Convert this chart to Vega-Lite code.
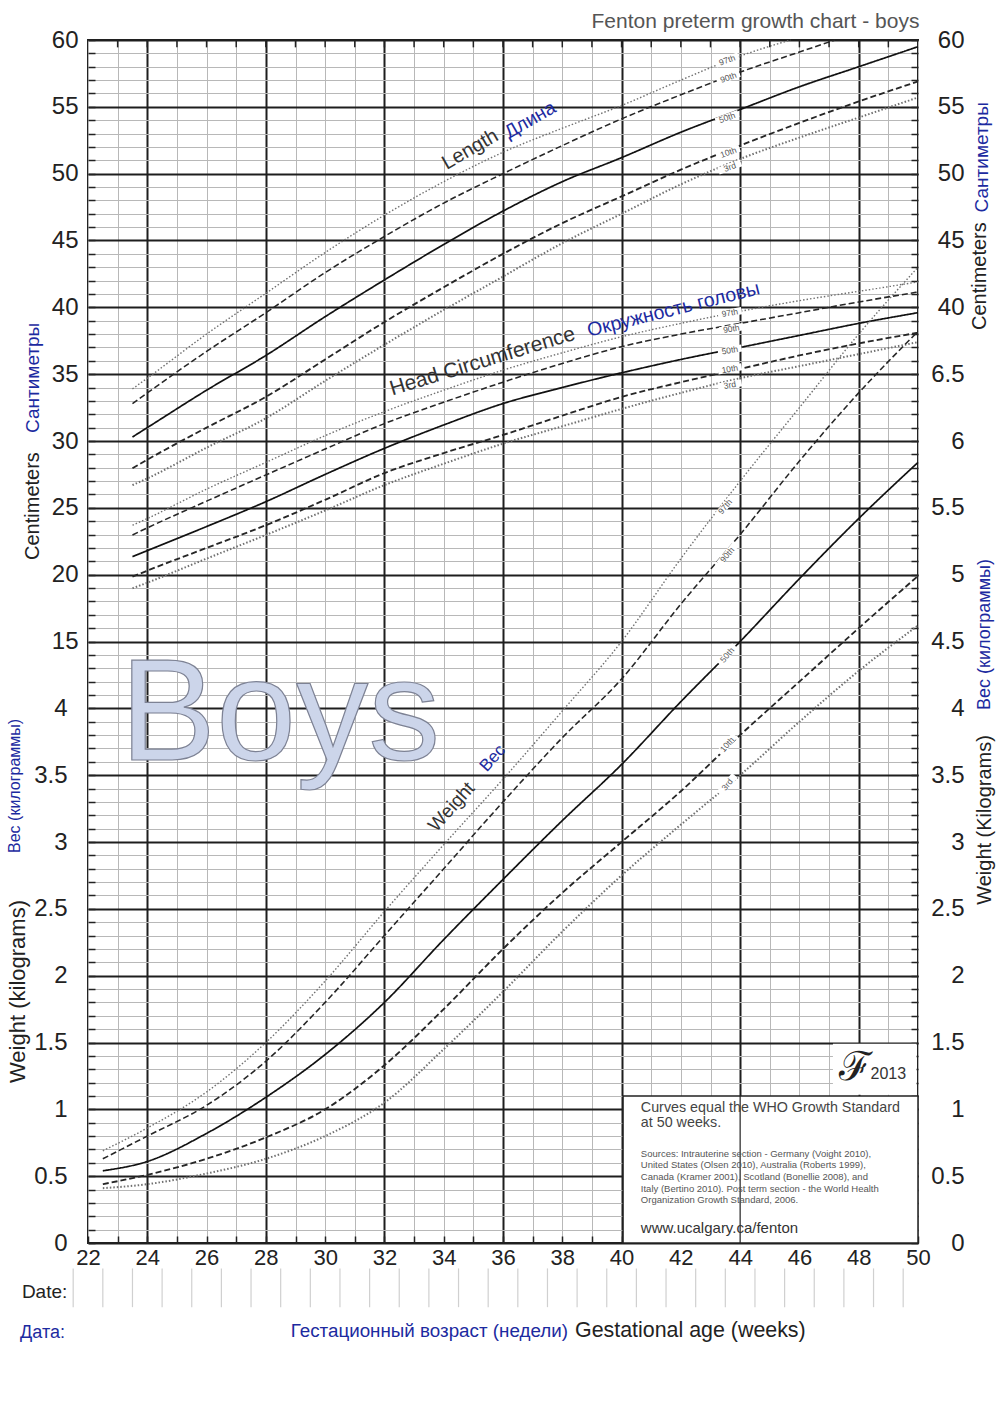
{
  "$schema": "https://vega.github.io/schema/vega-lite/v6.json",
  "width": 830,
  "height": 1203,
  "autosize": "none",
  "padding": {"left": 88, "top": 40, "right": 89, "bottom": 168},
  "background": "white",
  "config": {
    "view": {"stroke": "#222222", "strokeWidth": 2},
    "font": "Liberation Sans",
    "text": {"font": "Liberation Sans"},
    "axis": {"labelFont": "Liberation Sans", "labelFlush": false, "labelOverlap": false, "labelBound": false, "domain": false}
  },
  "datasets": {
    "growth": [
      {"m":"Length","p":"97th","week":23.5,"v":33.9},{"m":"Length","p":"97th","week":24,"v":34.7},{"m":"Length","p":"97th","week":26,"v":38.0},{"m":"Length","p":"97th","week":28,"v":41.05},{"m":"Length","p":"97th","week":30,"v":44.1},{"m":"Length","p":"97th","week":32,"v":46.9},{"m":"Length","p":"97th","week":34,"v":49.4},{"m":"Length","p":"97th","week":36,"v":51.6},{"m":"Length","p":"97th","week":38,"v":53.4},{"m":"Length","p":"97th","week":40,"v":55.1},{"m":"Length","p":"97th","week":42,"v":57.0},{"m":"Length","p":"97th","week":44,"v":58.8},{"m":"Length","p":"97th","week":45.7,"v":60.0},
      {"m":"Length","p":"90th","week":23.5,"v":32.8},{"m":"Length","p":"90th","week":24,"v":33.6},{"m":"Length","p":"90th","week":26,"v":36.7},{"m":"Length","p":"90th","week":28,"v":39.6},{"m":"Length","p":"90th","week":30,"v":42.6},{"m":"Length","p":"90th","week":32,"v":45.3},{"m":"Length","p":"90th","week":34,"v":47.8},{"m":"Length","p":"90th","week":36,"v":50.0},{"m":"Length","p":"90th","week":38,"v":52.1},{"m":"Length","p":"90th","week":40,"v":54.1},{"m":"Length","p":"90th","week":42,"v":55.9},{"m":"Length","p":"90th","week":44,"v":57.6},{"m":"Length","p":"90th","week":46,"v":59.1},{"m":"Length","p":"90th","week":47.2,"v":60.0},
      {"m":"Length","p":"50th","week":23.5,"v":30.3},{"m":"Length","p":"50th","week":24,"v":31.0},{"m":"Length","p":"50th","week":26,"v":33.8},{"m":"Length","p":"50th","week":28,"v":36.4},{"m":"Length","p":"50th","week":30,"v":39.3},{"m":"Length","p":"50th","week":32,"v":42.05},{"m":"Length","p":"50th","week":34,"v":44.7},{"m":"Length","p":"50th","week":36,"v":47.2},{"m":"Length","p":"50th","week":38,"v":49.4},{"m":"Length","p":"50th","week":40,"v":51.2},{"m":"Length","p":"50th","week":42,"v":53.1},{"m":"Length","p":"50th","week":44,"v":54.8},{"m":"Length","p":"50th","week":46,"v":56.5},{"m":"Length","p":"50th","week":48,"v":58.0},{"m":"Length","p":"50th","week":50,"v":59.5},
      {"m":"Length","p":"10th","week":23.5,"v":27.96},{"m":"Length","p":"10th","week":24,"v":28.6},{"m":"Length","p":"10th","week":26,"v":31.0},{"m":"Length","p":"10th","week":28,"v":33.3},{"m":"Length","p":"10th","week":30,"v":36.1},{"m":"Length","p":"10th","week":32,"v":38.9},{"m":"Length","p":"10th","week":34,"v":41.5},{"m":"Length","p":"10th","week":36,"v":44.0},{"m":"Length","p":"10th","week":38,"v":46.3},{"m":"Length","p":"10th","week":40,"v":48.3},{"m":"Length","p":"10th","week":42,"v":50.3},{"m":"Length","p":"10th","week":44,"v":52.1},{"m":"Length","p":"10th","week":46,"v":53.8},{"m":"Length","p":"10th","week":48,"v":55.4},{"m":"Length","p":"10th","week":50,"v":56.9},
      {"m":"Length","p":"3rd","week":23.5,"v":26.7},{"m":"Length","p":"3rd","week":24,"v":27.2},{"m":"Length","p":"3rd","week":26,"v":29.5},{"m":"Length","p":"3rd","week":28,"v":31.7},{"m":"Length","p":"3rd","week":30,"v":34.5},{"m":"Length","p":"3rd","week":32,"v":37.2},{"m":"Length","p":"3rd","week":34,"v":39.8},{"m":"Length","p":"3rd","week":36,"v":42.3},{"m":"Length","p":"3rd","week":38,"v":44.8},{"m":"Length","p":"3rd","week":40,"v":47.0},{"m":"Length","p":"3rd","week":42,"v":49.2},{"m":"Length","p":"3rd","week":44,"v":51.1},{"m":"Length","p":"3rd","week":46,"v":52.7},{"m":"Length","p":"3rd","week":48,"v":54.2},{"m":"Length","p":"3rd","week":50,"v":55.7},
      {"m":"Head","p":"97th","week":23.5,"v":23.7},{"m":"Head","p":"97th","week":24,"v":24.2},{"m":"Head","p":"97th","week":26,"v":26.4},{"m":"Head","p":"97th","week":28,"v":28.4},{"m":"Head","p":"97th","week":30,"v":30.4},{"m":"Head","p":"97th","week":32,"v":32.2},{"m":"Head","p":"97th","week":34,"v":33.8},{"m":"Head","p":"97th","week":36,"v":35.3},{"m":"Head","p":"97th","week":38,"v":36.6},{"m":"Head","p":"97th","week":40,"v":37.8},{"m":"Head","p":"97th","week":42,"v":38.8},{"m":"Head","p":"97th","week":44,"v":39.7},{"m":"Head","p":"97th","week":46,"v":40.5},{"m":"Head","p":"97th","week":48,"v":41.2},{"m":"Head","p":"97th","week":50,"v":41.9},
      {"m":"Head","p":"90th","week":23.5,"v":22.97},{"m":"Head","p":"90th","week":24,"v":23.5},{"m":"Head","p":"90th","week":26,"v":25.5},{"m":"Head","p":"90th","week":28,"v":27.46},{"m":"Head","p":"90th","week":30,"v":29.4},{"m":"Head","p":"90th","week":32,"v":31.3},{"m":"Head","p":"90th","week":34,"v":32.9},{"m":"Head","p":"90th","week":36,"v":34.4},{"m":"Head","p":"90th","week":38,"v":35.8},{"m":"Head","p":"90th","week":40,"v":37.06},{"m":"Head","p":"90th","week":42,"v":38.0},{"m":"Head","p":"90th","week":44,"v":38.8},{"m":"Head","p":"90th","week":46,"v":39.6},{"m":"Head","p":"90th","week":48,"v":40.4},{"m":"Head","p":"90th","week":50,"v":41.15},
      {"m":"Head","p":"50th","week":23.5,"v":21.35},{"m":"Head","p":"50th","week":24,"v":21.8},{"m":"Head","p":"50th","week":26,"v":23.6},{"m":"Head","p":"50th","week":28,"v":25.46},{"m":"Head","p":"50th","week":30,"v":27.5},{"m":"Head","p":"50th","week":32,"v":29.45},{"m":"Head","p":"50th","week":34,"v":31.2},{"m":"Head","p":"50th","week":36,"v":32.8},{"m":"Head","p":"50th","week":38,"v":34.0},{"m":"Head","p":"50th","week":40,"v":35.1},{"m":"Head","p":"50th","week":42,"v":36.1},{"m":"Head","p":"50th","week":44,"v":37.0},{"m":"Head","p":"50th","week":46,"v":37.9},{"m":"Head","p":"50th","week":48,"v":38.8},{"m":"Head","p":"50th","week":50,"v":39.6},
      {"m":"Head","p":"10th","week":23.5,"v":19.85},{"m":"Head","p":"10th","week":24,"v":20.3},{"m":"Head","p":"10th","week":26,"v":22.0},{"m":"Head","p":"10th","week":28,"v":23.7},{"m":"Head","p":"10th","week":30,"v":25.6},{"m":"Head","p":"10th","week":32,"v":27.6},{"m":"Head","p":"10th","week":34,"v":29.1},{"m":"Head","p":"10th","week":36,"v":30.45},{"m":"Head","p":"10th","week":38,"v":31.9},{"m":"Head","p":"10th","week":40,"v":33.3},{"m":"Head","p":"10th","week":42,"v":34.4},{"m":"Head","p":"10th","week":44,"v":35.4},{"m":"Head","p":"10th","week":46,"v":36.4},{"m":"Head","p":"10th","week":48,"v":37.3},{"m":"Head","p":"10th","week":50,"v":38.1},
      {"m":"Head","p":"3rd","week":23.5,"v":18.98},{"m":"Head","p":"3rd","week":24,"v":19.4},{"m":"Head","p":"3rd","week":26,"v":21.2},{"m":"Head","p":"3rd","week":28,"v":22.97},{"m":"Head","p":"3rd","week":30,"v":24.8},{"m":"Head","p":"3rd","week":32,"v":26.7},{"m":"Head","p":"3rd","week":34,"v":28.3},{"m":"Head","p":"3rd","week":36,"v":29.8},{"m":"Head","p":"3rd","week":38,"v":31.1},{"m":"Head","p":"3rd","week":40,"v":32.4},{"m":"Head","p":"3rd","week":42,"v":33.6},{"m":"Head","p":"3rd","week":44,"v":34.7},{"m":"Head","p":"3rd","week":46,"v":35.6},{"m":"Head","p":"3rd","week":48,"v":36.5},{"m":"Head","p":"3rd","week":50,"v":37.4},
      {"m":"Weight","p":"97th","week":22.5,"v":0.69},{"m":"Weight","p":"97th","week":24,"v":0.86},{"m":"Weight","p":"97th","week":26,"v":1.13},{"m":"Weight","p":"97th","week":28,"v":1.5},{"m":"Weight","p":"97th","week":30,"v":1.96},{"m":"Weight","p":"97th","week":32,"v":2.48},{"m":"Weight","p":"97th","week":34,"v":2.98},{"m":"Weight","p":"97th","week":36,"v":3.47},{"m":"Weight","p":"97th","week":38,"v":3.98},{"m":"Weight","p":"97th","week":40,"v":4.5},{"m":"Weight","p":"97th","week":42,"v":5.12},{"m":"Weight","p":"97th","week":44,"v":5.7},{"m":"Weight","p":"97th","week":46,"v":6.25},{"m":"Weight","p":"97th","week":48,"v":6.8},{"m":"Weight","p":"97th","week":50,"v":7.3},
      {"m":"Weight","p":"90th","week":22.5,"v":0.63},{"m":"Weight","p":"90th","week":24,"v":0.8},{"m":"Weight","p":"90th","week":26,"v":1.03},{"m":"Weight","p":"90th","week":28,"v":1.36},{"m":"Weight","p":"90th","week":30,"v":1.8},{"m":"Weight","p":"90th","week":32,"v":2.3},{"m":"Weight","p":"90th","week":34,"v":2.8},{"m":"Weight","p":"90th","week":36,"v":3.3},{"m":"Weight","p":"90th","week":38,"v":3.78},{"m":"Weight","p":"90th","week":40,"v":4.22},{"m":"Weight","p":"90th","week":42,"v":4.78},{"m":"Weight","p":"90th","week":44,"v":5.3},{"m":"Weight","p":"90th","week":46,"v":5.85},{"m":"Weight","p":"90th","week":48,"v":6.36},{"m":"Weight","p":"90th","week":50,"v":6.82},
      {"m":"Weight","p":"50th","week":22.5,"v":0.54},{"m":"Weight","p":"50th","week":24,"v":0.61},{"m":"Weight","p":"50th","week":26,"v":0.82},{"m":"Weight","p":"50th","week":28,"v":1.09},{"m":"Weight","p":"50th","week":30,"v":1.41},{"m":"Weight","p":"50th","week":32,"v":1.8},{"m":"Weight","p":"50th","week":34,"v":2.27},{"m":"Weight","p":"50th","week":36,"v":2.72},{"m":"Weight","p":"50th","week":38,"v":3.16},{"m":"Weight","p":"50th","week":40,"v":3.58},{"m":"Weight","p":"50th","week":42,"v":4.05},{"m":"Weight","p":"50th","week":44,"v":4.5},{"m":"Weight","p":"50th","week":46,"v":4.97},{"m":"Weight","p":"50th","week":48,"v":5.42},{"m":"Weight","p":"50th","week":50,"v":5.84},
      {"m":"Weight","p":"10th","week":22.5,"v":0.44},{"m":"Weight","p":"10th","week":24,"v":0.51},{"m":"Weight","p":"10th","week":26,"v":0.63},{"m":"Weight","p":"10th","week":28,"v":0.79},{"m":"Weight","p":"10th","week":30,"v":1.0},{"m":"Weight","p":"10th","week":32,"v":1.33},{"m":"Weight","p":"10th","week":34,"v":1.75},{"m":"Weight","p":"10th","week":36,"v":2.2},{"m":"Weight","p":"10th","week":38,"v":2.62},{"m":"Weight","p":"10th","week":40,"v":3.0},{"m":"Weight","p":"10th","week":42,"v":3.38},{"m":"Weight","p":"10th","week":44,"v":3.8},{"m":"Weight","p":"10th","week":46,"v":4.2},{"m":"Weight","p":"10th","week":48,"v":4.6},{"m":"Weight","p":"10th","week":50,"v":4.99},
      {"m":"Weight","p":"3rd","week":22.5,"v":0.41},{"m":"Weight","p":"3rd","week":24,"v":0.44},{"m":"Weight","p":"3rd","week":26,"v":0.52},{"m":"Weight","p":"3rd","week":28,"v":0.63},{"m":"Weight","p":"3rd","week":30,"v":0.8},{"m":"Weight","p":"3rd","week":32,"v":1.05},{"m":"Weight","p":"3rd","week":34,"v":1.45},{"m":"Weight","p":"3rd","week":36,"v":1.88},{"m":"Weight","p":"3rd","week":38,"v":2.33},{"m":"Weight","p":"3rd","week":40,"v":2.75},{"m":"Weight","p":"3rd","week":42,"v":3.13},{"m":"Weight","p":"3rd","week":44,"v":3.5},{"m":"Weight","p":"3rd","week":46,"v":3.9},{"m":"Weight","p":"3rd","week":48,"v":4.28},{"m":"Weight","p":"3rd","week":50,"v":4.62}
    ],
    "lenLabels": [
      {"week":43.56,"cm":58.5,"t":"97th"},{"week":43.6,"cm":57.2,"t":"90th"},{"week":43.56,"cm":54.2,"t":"50th"},{"week":43.6,"cm":51.6,"t":"10th"},{"week":43.65,"cm":50.5,"t":"3rd"}
    ],
    "hcLabels": [
      {"week":43.65,"cm":39.6,"t":"97th"},{"week":43.7,"cm":38.4,"t":"90th"},{"week":43.65,"cm":36.8,"t":"50th"},{"week":43.65,"cm":35.4,"t":"10th"},{"week":43.65,"cm":34.2,"t":"3rd"}
    ],
    "wtLabels": [
      {"week":43.49,"kg":5.51,"t":"97th"},{"week":43.56,"kg":5.15,"t":"90th"},{"week":43.56,"kg":4.4,"t":"50th"},{"week":43.56,"kg":3.73,"t":"10th"},{"week":43.56,"kg":3.43,"t":"3rd"}
    ],
    "weeks": [
      {"week":23},{"week":24},{"week":25},{"week":26},{"week":27},{"week":28},{"week":29},{"week":30},{"week":31},{"week":32},{"week":33},{"week":34},{"week":35},{"week":36},{"week":37},{"week":38},{"week":39},{"week":40},{"week":41},{"week":42},{"week":43},{"week":44},{"week":45},{"week":46},{"week":47},{"week":48},{"week":49}
    ],
    "dateCols": [
      {"week":21.5},{"week":22.5},{"week":23.5},{"week":24.5},{"week":25.5},{"week":26.5},{"week":27.5},{"week":28.5},{"week":29.5},{"week":30.5},{"week":31.5},{"week":32.5},{"week":33.5},{"week":34.5},{"week":35.5},{"week":36.5},{"week":37.5},{"week":38.5},{"week":39.5},{"week":40.5},{"week":41.5},{"week":42.5},{"week":43.5},{"week":44.5},{"week":45.5},{"week":46.5},{"week":47.5},{"week":48.5},{"week":49.5}
    ]
  },
  "encoding": {
    "x": {"field": "week", "type": "quantitative", "scale": {"domain": [22, 50], "nice": false, "zero": false},
      "axis": {"orient": "bottom", "title": null, "values": [22,23,24,25,26,27,28,29,30,31,32,33,34,35,36,37,38,39,40,41,42,43,44,45,46,47,48,49,50],
        "labelExpr": "datum.value % 2 === 0 ? datum.label : ''", "labelFontSize": 22, "labelColor": "#222222", "labelPadding": 11,
        "ticks": true, "tickSize": -7, "tickColor": "#222222", "tickWidth": 1.5,
        "grid": true, "gridColor": {"condition": {"test": "datum.value % 4 === 0", "value": "#1e1e1e"}, "value": "#b8b8b8"},
        "gridWidth": {"condition": {"test": "datum.value % 4 === 0", "value": 2}, "value": 1}}}
  },
  "layer": [
    {
      "data": {"name": "growth"},
      "transform": [{"filter": "datum.m !== 'Weight'"}],
      "mark": {"type": "line", "interpolate": "monotone"},
      "encoding": {
        "y": {"field": "v", "type": "quantitative", "scale": {"domain": [-30, 60], "nice": false, "zero": false},
          "axis": {"orient": "left", "title": null, "values": [-30,-29,-28,-27,-26,-25,-24,-23,-22,-21,-20,-19,-18,-17,-16,-15,-14,-13,-12,-11,-10,-9,-8,-7,-6,-5,-4,-3,-2,-1,0,1,2,3,4,5,6,7,8,9,10,11,12,13,14,15,16,17,18,19,20,21,22,23,24,25,26,27,28,29,30,31,32,33,34,35,36,37,38,39,40,41,42,43,44,45,46,47,48,49,50,51,52,53,54,55,56,57,58,59,60],
            "labelExpr": "(datum.value % 5 === 0 && datum.value >= 15) ? datum.label : ''", "labelFontSize": 24, "labelColor": "#222222", "labelPadding": 17,
            "ticks": true, "tickSize": -7, "tickColor": "#222222", "tickWidth": 1.5,
            "grid": true, "gridColor": {"condition": {"test": "datum.value % 5 === 0", "value": "#1e1e1e"}, "value": "#b8b8b8"},
            "gridWidth": {"condition": {"test": "datum.value % 5 === 0", "value": 2}, "value": 1}}},
        "color": {"field": "p", "type": "nominal", "scale": {"domain": ["97th","90th","50th","10th","3rd"], "range": ["#707070","#262626","#111111","#262626","#707070"]}, "legend": null},
        "strokeDash": {"field": "p", "type": "nominal", "scale": {"domain": ["97th","90th","50th","10th","3rd"], "range": [[1.5,2],[6,3],[1,0],[6,3],[1.5,2]]}, "legend": null},
        "strokeWidth": {"field": "p", "type": "ordinal", "scale": {"domain": ["97th","90th","50th","10th","3rd"], "range": [1.4,2,2,2,1.4]}, "legend": null},
        "detail": {"field": "m"}
      }
    },
    {
      "data": {"values": [{"week": 50.05, "cm": 61.35, "t": "Fenton preterm growth chart - boys"}]},
      "mark": {"type": "text", "align": "right", "baseline": "middle", "fontSize": 21, "color": "#555555"},
      "encoding": {
        "y": {"field": "cm", "type": "quantitative", "scale": {"domain": [-30, 60], "nice": false, "zero": false},
          "axis": {"orient": "right", "title": null, "grid": false, "values": [-30,-29,-28,-27,-26,-25,-24,-23,-22,-21,-20,-19,-18,-17,-16,-15,-14,-13,-12,-11,-10,-9,-8,-7,-6,-5,-4,-3,-2,-1,0,1,2,3,4,5,6,7,8,9,10,11,12,13,14,15,16,17,18,19,20,21,22,23,24,25,26,27,28,29,30,31,32,33,34,35,36,37,38,39,40,41,42,43,44,45,46,47,48,49,50,51,52,53,54,55,56,57,58,59,60],
            "labelExpr": "datum.value % 5 === 0 ? (datum.value >= 40 ? datum.label : '' + (datum.value / 10 + 3)) : ''",
            "labelFontSize": 24, "labelColor": "#222222", "labelAlign": "right", "labelPadding": 53,
            "ticks": true, "tickSize": -7, "tickColor": "#222222", "tickWidth": 1.5}},
        "text": {"field": "t"}
      }
    },
    {
      "data": {"name": "weeks"},
      "mark": {"type": "rule", "color": "#222222", "strokeWidth": 1.5},
      "encoding": {
        "y": {"datum": 60, "type": "quantitative", "scale": {"domain": [-30, 60], "nice": false, "zero": false}, "axis": null},
        "y2": {"datum": 59.45}
      }
    },
    {
      "data": {"values": [{"week": 40.05, "week2": 50, "kg": 0, "kg2": 1.1}]},
      "mark": {"type": "rect", "fill": "white", "stroke": "#222222", "strokeWidth": 1.5},
      "encoding": {
        "x2": {"field": "week2"},
        "y": {"field": "kg", "type": "quantitative", "scale": {"domain": [0, 9], "nice": false, "zero": false},
          "axis": {"orient": "left", "title": null, "grid": false, "values": [0,0.5,1,1.5,2,2.5,3,3.5,4], "labelExpr": "'' + datum.value", "labelFontSize": 24, "labelColor": "#222222", "labelPadding": 21, "ticks": false}},
        "y2": {"field": "kg2"}
      }
    },
    {
      "data": {"values": [{"week": 47.13, "week2": 49.95, "kg": 1.11, "kg2": 1.49}]},
      "mark": {"type": "rect", "fill": "white", "stroke": null},
      "encoding": {
        "x2": {"field": "week2"},
        "y": {"field": "kg", "type": "quantitative", "scale": {"domain": [0, 9], "nice": false, "zero": false}, "axis": null},
        "y2": {"field": "kg2"}
      }
    },
    {
      "data": {"values": [{"week": 44}]},
      "mark": {"type": "rule", "color": "#222222", "strokeWidth": 1.2},
      "encoding": {
        "y": {"datum": 0, "type": "quantitative", "scale": {"domain": [0, 9], "nice": false, "zero": false}, "axis": null},
        "y2": {"datum": 1.1}
      }
    },
    {
      "data": {"name": "growth"},
      "transform": [{"filter": "datum.m === 'Weight'"}],
      "mark": {"type": "line", "interpolate": "monotone"},
      "encoding": {
        "y": {"field": "v", "type": "quantitative", "scale": {"domain": [0, 9], "nice": false, "zero": false}, "axis": null},
        "color": {"field": "p", "type": "nominal", "legend": null},
        "strokeDash": {"field": "p", "type": "nominal", "legend": null},
        "strokeWidth": {"field": "p", "type": "ordinal", "legend": null},
        "detail": {"field": "m"}
      }
    },
    {
      "data": {"name": "lenLabels"},
      "mark": {"type": "point", "shape": "M-1,-0.3L1,-0.3L1,0.3L-1,0.3Z", "filled": true, "color": "white", "opacity": 1, "size": 576, "angle": 340},
      "encoding": {
        "y": {"field": "cm", "type": "quantitative", "scale": {"domain": [-30, 60], "nice": false, "zero": false}, "axis": null}
      }
    },
    {
      "data": {"name": "hcLabels"},
      "mark": {"type": "point", "shape": "M-1,-0.3L1,-0.3L1,0.3L-1,0.3Z", "filled": true, "color": "white", "opacity": 1, "size": 576, "angle": 350},
      "encoding": {
        "y": {"field": "cm", "type": "quantitative", "scale": {"domain": [-30, 60], "nice": false, "zero": false}, "axis": null}
      }
    },
    {
      "data": {"name": "wtLabels"},
      "mark": {"type": "point", "shape": "M-1,-0.3L1,-0.3L1,0.3L-1,0.3Z", "filled": true, "color": "white", "opacity": 1, "size": 576, "angle": 310},
      "encoding": {
        "y": {"field": "kg", "type": "quantitative", "scale": {"domain": [0, 9], "nice": false, "zero": false}, "axis": null}
      }
    },
    {
      "data": {"name": "lenLabels"},
      "mark": {"type": "text", "align": "center", "baseline": "middle", "fontSize": 8.5, "color": "#555555", "angle": -20},
      "encoding": {
        "y": {"field": "cm", "type": "quantitative", "scale": {"domain": [-30, 60], "nice": false, "zero": false}, "axis": null},
        "text": {"field": "t"}
      }
    },
    {
      "data": {"name": "hcLabels"},
      "mark": {"type": "text", "align": "center", "baseline": "middle", "fontSize": 8.5, "color": "#555555", "angle": -10},
      "encoding": {
        "y": {"field": "cm", "type": "quantitative", "scale": {"domain": [-30, 60], "nice": false, "zero": false}, "axis": null},
        "text": {"field": "t"}
      }
    },
    {
      "data": {"name": "wtLabels"},
      "mark": {"type": "text", "align": "center", "baseline": "middle", "fontSize": 8.5, "color": "#555555", "angle": -50},
      "encoding": {
        "y": {"field": "kg", "type": "quantitative", "scale": {"domain": [0, 9], "nice": false, "zero": false}, "axis": null},
        "text": {"field": "t"}
      }
    },
    {
      "data": {"values": [{"week": 34.1, "cm": 50.28, "t": "Length"}]},
      "mark": {"type": "text", "align": "left", "baseline": "alphabetic", "fontSize": 20, "color": "#333333", "angle": -30},
      "encoding": {
        "y": {"field": "cm", "type": "quantitative", "scale": {"domain": [-30, 60], "nice": false, "zero": false}, "axis": null},
        "text": {"field": "t"}
      }
    },
    {
      "data": {"values": [{"week": 36.2, "cm": 52.6, "t": "Длина"}]},
      "mark": {"type": "text", "align": "left", "baseline": "alphabetic", "fontSize": 19, "color": "#1c2aa0", "angle": -30},
      "encoding": {
        "y": {"field": "cm", "type": "quantitative", "scale": {"domain": [-30, 60], "nice": false, "zero": false}, "axis": null},
        "text": {"field": "t"}
      }
    },
    {
      "data": {"values": [{"week": 32.26, "cm": 33.4, "t": "Head Circumference"}]},
      "mark": {"type": "text", "align": "left", "baseline": "alphabetic", "fontSize": 21, "color": "#333333", "angle": -17},
      "encoding": {
        "y": {"field": "cm", "type": "quantitative", "scale": {"domain": [-30, 60], "nice": false, "zero": false}, "axis": null},
        "text": {"field": "t"}
      }
    },
    {
      "data": {"values": [{"week": 38.9, "cm": 37.8, "t": "Окружность головы"}]},
      "mark": {"type": "text", "align": "left", "baseline": "alphabetic", "fontSize": 19.5, "color": "#1c2aa0", "angle": -14},
      "encoding": {
        "y": {"field": "cm", "type": "quantitative", "scale": {"domain": [-30, 60], "nice": false, "zero": false}, "axis": null},
        "text": {"field": "t"}
      }
    },
    {
      "data": {"values": [{"week": 20.14, "cm": 21.1, "t": "Centimeters"}, {"week": 52.1, "cm": 38.3, "t": "Centimeters"}]},
      "mark": {"type": "text", "align": "left", "baseline": "middle", "fontSize": 20, "color": "#222222", "angle": -90},
      "encoding": {
        "y": {"field": "cm", "type": "quantitative", "scale": {"domain": [-30, 60], "nice": false, "zero": false}, "axis": null},
        "text": {"field": "t"}
      }
    },
    {
      "data": {"values": [{"week": 20.14, "cm": 30.6, "t": "Сантиметры"}, {"week": 52.15, "cm": 47.1, "t": "Сантиметры"}]},
      "mark": {"type": "text", "align": "left", "baseline": "middle", "fontSize": 19, "color": "#1c2aa0", "angle": -90},
      "encoding": {
        "y": {"field": "cm", "type": "quantitative", "scale": {"domain": [-30, 60], "nice": false, "zero": false}, "axis": null},
        "text": {"field": "t"}
      }
    },
    {
      "data": {"values": [{"week": 23.08, "kg": 3.614, "t": "Boys"}]},
      "mark": {"type": "text", "align": "left", "baseline": "alphabetic", "fontSize": 144, "fill": "#ccd5ea", "stroke": "#7d8294", "strokeWidth": 1.2},
      "encoding": {
        "y": {"field": "kg", "type": "quantitative", "scale": {"domain": [0, 9], "nice": false, "zero": false}, "axis": null},
        "text": {"field": "t"}
      }
    },
    {
      "data": {"values": [{"week": 33.75, "kg": 3.07, "t": "Weight"}]},
      "mark": {"type": "text", "align": "left", "baseline": "alphabetic", "fontSize": 19, "color": "#333333", "angle": -48},
      "encoding": {
        "y": {"field": "kg", "type": "quantitative", "scale": {"domain": [0, 9], "nice": false, "zero": false}, "axis": null},
        "text": {"field": "t"}
      }
    },
    {
      "data": {"values": [{"week": 35.45, "kg": 3.52, "t": "Вес"}]},
      "mark": {"type": "text", "align": "left", "baseline": "alphabetic", "fontSize": 17, "color": "#1c2aa0", "angle": -48},
      "encoding": {
        "y": {"field": "kg", "type": "quantitative", "scale": {"domain": [0, 9], "nice": false, "zero": false}, "axis": null},
        "text": {"field": "t"}
      }
    },
    {
      "data": {"values": [{"week": 40.65, "kg": 0.982, "t": "Curves equal the WHO Growth Standard"}, {"week": 40.65, "kg": 0.866, "t": "at 50 weeks."}]},
      "mark": {"type": "text", "align": "left", "baseline": "alphabetic", "fontSize": 14.3, "color": "#444444"},
      "encoding": {
        "y": {"field": "kg", "type": "quantitative", "scale": {"domain": [0, 9], "nice": false, "zero": false}, "axis": null},
        "text": {"field": "t"}
      }
    },
    {
      "data": {"values": [
        {"week": 40.65, "kg": 0.646, "t": "Sources: Intrauterine section - Germany (Voight 2010),"},
        {"week": 40.65, "kg": 0.559, "t": "United States (Olsen 2010), Australia (Roberts 1999),"},
        {"week": 40.65, "kg": 0.471, "t": "Canada (Kramer 2001), Scotland (Bonellie 2008), and"},
        {"week": 40.65, "kg": 0.384, "t": "Italy (Bertino 2010). Post term section - the World Health"},
        {"week": 40.65, "kg": 0.297, "t": "Organization Growth Standard, 2006."}
      ]},
      "mark": {"type": "text", "align": "left", "baseline": "alphabetic", "fontSize": 9.5, "color": "#555555"},
      "encoding": {
        "y": {"field": "kg", "type": "quantitative", "scale": {"domain": [0, 9], "nice": false, "zero": false}, "axis": null},
        "text": {"field": "t"}
      }
    },
    {
      "data": {"values": [{"week": 40.65, "kg": 0.073, "t": "www.ucalgary.ca/fenton"}]},
      "mark": {"type": "text", "align": "left", "baseline": "alphabetic", "fontSize": 15, "color": "#333333"},
      "encoding": {
        "y": {"field": "kg", "type": "quantitative", "scale": {"domain": [0, 9], "nice": false, "zero": false}, "axis": null},
        "text": {"field": "t"}
      }
    },
    {
      "data": {"values": [{"week": 47.88, "kg": 1.31, "t": "ℱ"}]},
      "mark": {"type": "text", "align": "center", "baseline": "middle", "fontSize": 40, "font": "DejaVu Serif", "color": "#222222"},
      "encoding": {
        "y": {"field": "kg", "type": "quantitative", "scale": {"domain": [0, 9], "nice": false, "zero": false}, "axis": null},
        "text": {"field": "t"}
      }
    },
    {
      "data": {"values": [{"week": 48.4, "kg": 1.227, "t": "2013"}]},
      "mark": {"type": "text", "align": "left", "baseline": "alphabetic", "fontSize": 16, "color": "#333333"},
      "encoding": {
        "y": {"field": "kg", "type": "quantitative", "scale": {"domain": [0, 9], "nice": false, "zero": false}, "axis": null},
        "text": {"field": "t"}
      }
    },
    {
      "data": {"name": "dateCols"},
      "mark": {"type": "rule", "color": "#d0d0d0", "strokeWidth": 1.2},
      "encoding": {
        "y": {"datum": -0.19, "type": "quantitative", "scale": {"domain": [0, 9], "nice": false, "zero": false}, "axis": null},
        "y2": {"datum": -0.48}
      }
    },
    {
      "data": {"values": [{"week": 19.77, "kg": -0.367, "t": "Date:"}]},
      "mark": {"type": "text", "align": "left", "baseline": "middle", "fontSize": 19, "color": "#222222"},
      "encoding": {
        "y": {"field": "kg", "type": "quantitative", "scale": {"domain": [0, 9], "nice": false, "zero": false}, "axis": null},
        "text": {"field": "t"}
      }
    },
    {
      "data": {"values": [{"week": 38.43, "kg": -0.658, "t": "Gestational age (weeks)"}]},
      "mark": {"type": "text", "align": "left", "baseline": "middle", "fontSize": 21.4, "color": "#222222"},
      "encoding": {
        "y": {"field": "kg", "type": "quantitative", "scale": {"domain": [0, 9], "nice": false, "zero": false}, "axis": null},
        "text": {"field": "t"}
      }
    },
    {
      "data": {"values": [{"week": 19.71, "kg": -0.673, "t": "Дата:"}]},
      "mark": {"type": "text", "align": "left", "baseline": "middle", "fontSize": 18, "color": "#1c2aa0"},
      "encoding": {
        "y": {"field": "kg", "type": "quantitative", "scale": {"domain": [0, 9], "nice": false, "zero": false}, "axis": null},
        "text": {"field": "t"}
      }
    },
    {
      "data": {"values": [{"week": 38.19, "kg": -0.658, "t": "Гестационный возраст (недели)"}]},
      "mark": {"type": "text", "align": "right", "baseline": "middle", "fontSize": 18.8, "color": "#1c2aa0"},
      "encoding": {
        "y": {"field": "kg", "type": "quantitative", "scale": {"domain": [0, 9], "nice": false, "zero": false}, "axis": null},
        "text": {"field": "t"}
      }
    },
    {
      "data": {"values": [{"week": 19.65, "kg": 1.197, "t": "Weight (kilograms)"}]},
      "mark": {"type": "text", "align": "left", "baseline": "middle", "fontSize": 22, "color": "#222222", "angle": -90},
      "encoding": {
        "y": {"field": "kg", "type": "quantitative", "scale": {"domain": [0, 9], "nice": false, "zero": false}, "axis": null},
        "text": {"field": "t"}
      }
    },
    {
      "data": {"values": [{"week": 52.25, "kg": 2.53, "t": "Weight (Kilograms)"}]},
      "mark": {"type": "text", "align": "left", "baseline": "middle", "fontSize": 20, "color": "#222222", "angle": -90},
      "encoding": {
        "y": {"field": "kg", "type": "quantitative", "scale": {"domain": [0, 9], "nice": false, "zero": false}, "axis": null},
        "text": {"field": "t"}
      }
    },
    {
      "data": {"values": [{"week": 19.54, "kg": 2.918, "t": "Вес (килограммы)"}]},
      "mark": {"type": "text", "align": "left", "baseline": "middle", "fontSize": 16, "color": "#1c2aa0", "angle": -90},
      "encoding": {
        "y": {"field": "kg", "type": "quantitative", "scale": {"domain": [0, 9], "nice": false, "zero": false}, "axis": null},
        "text": {"field": "t"}
      }
    },
    {
      "data": {"values": [{"week": 52.25, "kg": 3.988, "t": "Вес (килограммы)"}]},
      "mark": {"type": "text", "align": "left", "baseline": "middle", "fontSize": 18, "color": "#1c2aa0", "angle": -90},
      "encoding": {
        "y": {"field": "kg", "type": "quantitative", "scale": {"domain": [0, 9], "nice": false, "zero": false}, "axis": null},
        "text": {"field": "t"}
      }
    }
  ],
  "resolve": {"scale": {"y": "independent"}}
}
